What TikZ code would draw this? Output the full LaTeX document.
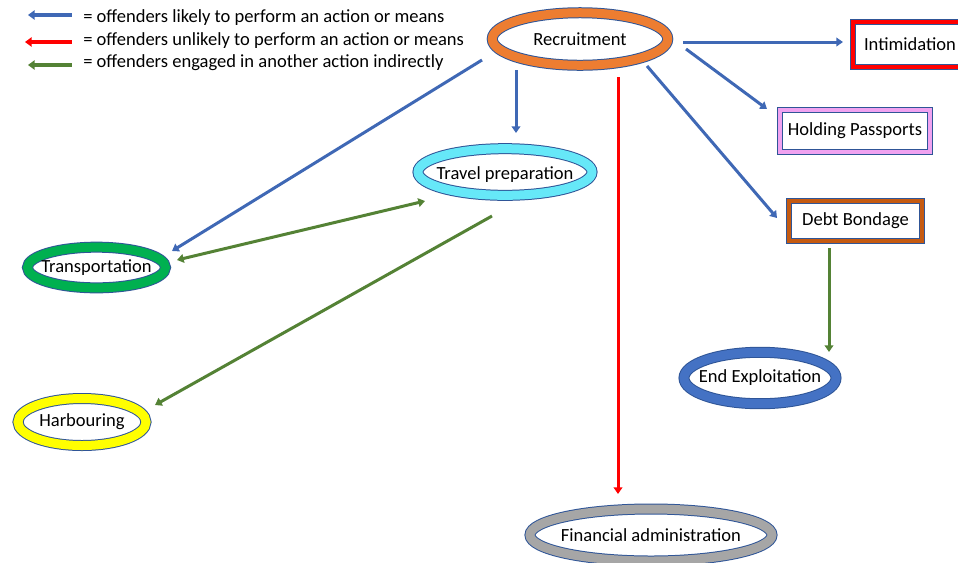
\documentclass[tikz,border=0pt]{standalone}
\usepackage{fontspec}
\setmainfont{Carlito}
\usetikzlibrary{shapes.geometric,arrows.meta,calc}

\definecolor{edgeblue}{HTML}{2F5597}
\definecolor{arrblue}{HTML}{3F68B5}
\definecolor{arrred}{HTML}{FF0000}
\definecolor{arrgreen}{HTML}{548235}
\definecolor{bandorange}{HTML}{ED7D31}
\definecolor{bandcyan}{HTML}{66E8F8}
\definecolor{bandgreen}{HTML}{00B050}
\definecolor{bandyellow}{HTML}{FFFF00}
\definecolor{bandblue}{HTML}{4472C4}
\definecolor{bandgray}{HTML}{A6A6A6}
\definecolor{bandred}{HTML}{FF0000}
\definecolor{bandpink}{HTML}{F0A2F0}
\definecolor{bandbrown}{HTML}{C55A11}

\tikzset{
  ring/.style={ellipse, draw=edgeblue, line width=0.75pt, double=#1,
    double distance=6.75pt, fill=white, inner sep=0pt},
  frame/.style={rectangle, draw=edgeblue, line width=0.75pt, double=#1,
    double distance=3pt, fill=white, inner sep=0pt},
  legendtext/.style={anchor=west, inner sep=0pt},
  conn/.style={line width=2.25pt, -{Triangle[length=5pt,width=6.5pt]}},
  bluearrow/.style={conn, draw=arrblue},
  redarrow/.style={conn, draw=arrred},
  greenarrow/.style={conn, draw=arrgreen},
  keyarrow/.style={line width=3pt, {Triangle[length=5pt,width=7pt]}-},
}

\begin{document}
\begin{tikzpicture}[x=0.75pt, y=-0.75pt, font=\fontsize{13.9}{16}\selectfont]
\useasboundingbox (0,0) rectangle (958,562);

% key
\node[legendtext] (k1) at (83,18) {= offenders likely to perform an action or means};
\node[legendtext] (k2) at (83,41) {= offenders unlikely to perform an action or means};
\node[legendtext] (k3) at (83,63) {= offenders engaged in another action indirectly};
\draw[keyarrow, draw=arrblue]  ($(k1.west)+(-55,-3)$) -- ($(k1.west)+(-11,-3)$);
\draw[keyarrow, draw=arrred]   ($(k2.west)+(-58,1)$)  -- ($(k2.west)+(-11,1)$);
\draw[keyarrow, draw=arrgreen] ($(k3.west)+(-55,2)$)  -- ($(k3.west)+(-11,2)$);

% elliptical stages
\node[ring=bandorange, minimum width=131.6pt, minimum height=39.4pt,
      label=center:Recruitment] (rec) at (580,39) {};
\node[ring=bandcyan, minimum width=130.5pt, minimum height=35pt,
      label={[yshift=-2pt]center:Travel preparation}] (trav) at (505,172) {};
\node[ring=bandgreen, minimum width=103.5pt, minimum height=30.5pt,
      label=center:Transportation] (trans) at (96.5,267.5) {};
\node[ring=bandyellow, minimum width=96pt, minimum height=35.25pt,
      label=center:Harbouring] (harb) at (82,422) {};
\node[ring=bandblue, minimum width=114pt, minimum height=38.6pt,
      label=center:End Exploitation] (endx) at (760,378) {};
\node[ring=bandgray, minimum width=181.5pt, minimum height=39pt,
      label=center:Financial administration] (fin) at (651,535) {};

% rectangular means
\node[frame=bandred, minimum width=85.5pt, minimum height=33.75pt] (intim) at (910,44) {Intimidation};
\node[frame=bandpink, minimum width=112.5pt, minimum height=31.5pt] (pass) at (855,131) {Holding Passports};
\node[frame=bandbrown, minimum width=99.75pt, minimum height=30pt] (debt) at (855.5,220.5) {Debt Bondage};

% connectors
\draw[bluearrow] ($(rec)+(103,3)$) -- ($(intim)+(-67,-2)$);
\draw[bluearrow] ($(rec)+(-64,31)$) -- ($(trav)+(11,-39)$);
\draw[bluearrow] ($(rec)+(-98,21)$) -- ($(trans)+(75.5,-16.5)$);
\draw[redarrow]  ($(rec)+(38,38)$) -- ($(fin)+(-33,-41)$);
\draw[bluearrow] ($(rec)+(106,10)$) -- ($(pass)+(-88,-22)$);
\draw[bluearrow] ($(rec)+(67,27)$) -- ($(debt)+(-78.5,-2.5)$);
\draw[greenarrow, {Triangle[length=5pt,width=6.5pt]}-{Triangle[length=5pt,width=6.5pt]}]
     ($(trav)+(-80,29)$) -- ($(trans)+(80.5,-7.5)$);
\draw[greenarrow] ($(trav)+(-13,44)$) -- ($(harb)+(73,-17)$);
\draw[greenarrow] ($(debt)+(-26.5,27.5)$) -- ($(endx)+(69,-26)$);
\end{tikzpicture}
\end{document}
